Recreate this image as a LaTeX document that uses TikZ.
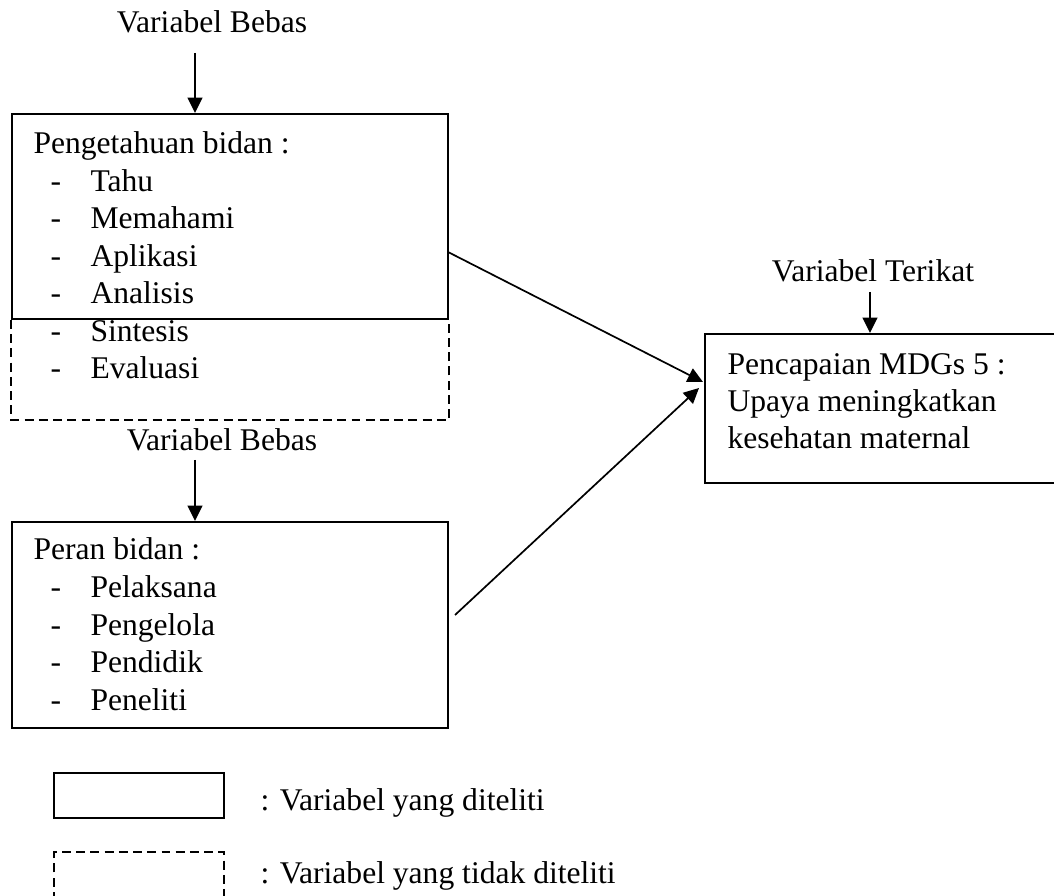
\documentclass[tikz,border=0pt]{standalone}
\usepackage{fontspec}
\setmainfont{Liberation Serif}
\usetikzlibrary{arrows.meta}
\tikzset{
  solidbox/.style={draw, line width=0.75pt, inner sep=0pt, rectangle},
  dashbox/.style={draw, line width=0.75pt, dash pattern=on 3.4pt off 2pt},
  arr/.style={line width=0.65pt, -{Triangle[length=5.8pt,width=5.6pt]}},
  txt/.style={anchor=base west, inner sep=0pt, font=\fontsize{12}{14}\selectfont},
  ctxt/.style={anchor=base, inner sep=0pt, font=\fontsize{12}{14}\selectfont}
}
\begin{document}
\begin{tikzpicture}[x=0.38pt,y=-0.38pt]
\useasboundingbox (0,0) rectangle (1054,896);
% boxes
\node[solidbox, minimum width=436*0.38pt, minimum height=205*0.38pt] (box1) at (230,216.5) {};
\draw[dashbox] (box1.south west) -- ++(0,100) -| (box1.south east);
\node[solidbox, minimum width=436*0.38pt, minimum height=206*0.38pt] (box2) at (230,625) {};
\node[solidbox, minimum width=355*0.38pt, minimum height=149*0.38pt] (box3) at (882.5,408.5) {};
% labels above
\node[ctxt] (vb1) at (212,33) {Variabel Bebas};
\node[ctxt] (vb2) at (222,450) {Variabel Bebas};
\node[ctxt] (vt) at (873,282) {Variabel Terikat};
% box1 text
\node[txt] (p0) at (33,154) {Pengetahuan bidan :};
\foreach \y/\t [count=\i] in {191.5/Tahu,229/Memahami,266.5/Aplikasi,304/Analisis,341.5/Sintesis,379/Evaluasi}{
  \node[txt] (pd\i) at (50,\y) {-};
  \node[txt] (pt\i) at (90,\y) {\t};
}
% box2 text
\node[txt] (r0) at (33,560) {Peran bidan :};
\foreach \y/\t [count=\i] in {597.5/Pelaksana,635/Pengelola,672.5/Pendidik,710/Peneliti}{
  \node[txt] (rd\i) at (50,\y) {-};
  \node[txt] (rt\i) at (90,\y) {\t};
}
% box3 text
\node[txt] (m1) at (727,375) {Pencapaian MDGs 5 :};
\node[txt] (m2) at (727,412) {Upaya meningkatkan};
\node[txt] (m3) at (727,449) {kesehatan maternal};
% arrows
\coordinate (s1) at (195,53);
\coordinate (s2) at (195,460);
\coordinate (s3) at (870,292);
\draw[arr] (s1) -- (s1 |- box1.north);
\draw[arr] (s2) -- (s2 |- box2.north);
\draw[arr] (s3) -- (s3 |- box3.north);
\coordinate (a1) at (448,252);
\coordinate (a2) at (703,382);
\coordinate (b1) at (455,615);
\coordinate (b2) at (699,388);
\draw[arr] (a1) -- (a2);
\draw[arr] (b1) -- (b2);
% legend
\node[solidbox, minimum width=170*0.38pt, minimum height=45*0.38pt] (lg1) at (139,795.5) {};
\draw[dashbox] (54,915) -- (54,852) -- (224,852) -- (224,915);
\coordinate (lg2) at (139,852);
\node[txt] (l1) at (260,810) {: Variabel yang diteliti};
\node[txt] (l2) at (260,883) {: Variabel yang tidak diteliti};
\end{tikzpicture}
\end{document}
